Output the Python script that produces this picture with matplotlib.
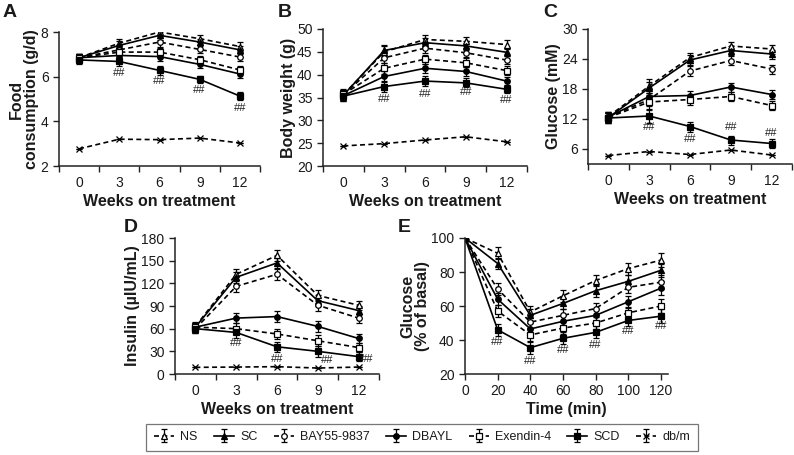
import matplotlib
matplotlib.use("Agg")
import matplotlib.pyplot as plt
import numpy as np

plt.rcParams['font.family'] = ['Liberation Sans', 'DejaVu Sans']

groups = ["NS", "SC", "BAY55-9837", "DBAYL", "Exendin-4", "SCD", "db/m"]
weeks = ["0", "3", "6", "9", "12"]
times = [0, 20, 40, 60, 80, 100, 120]

# Panel A: food consumption (g/d)
A_NS = [6.85, 7.5, 8.0, 7.7, 7.35]
A_SC = [6.85, 7.4, 7.85, 7.55, 7.2]
A_BAY = [6.85, 7.2, 7.55, 7.22, 6.88]
A_DBAYL = [6.85, 6.95, 6.9, 6.55, 6.12]
A_EX = [6.85, 7.1, 7.1, 6.76, 6.3]
A_SCD = [6.75, 6.68, 6.28, 5.88, 5.13]
A_DBM = [2.77, 3.2, 3.18, 3.25, 3.03]
A_err = [0.18, 0.2, 0.2, 0.15, 0.18]
A_sig = [6.16, 5.79, 5.39, 4.6]

# Panel B: body weight (g)
B_NS = [35.6, 45.0, 47.7, 47.3, 46.6]
B_SC = [35.5, 45.3, 47.0, 46.3, 44.9]
B_BAY = [35.6, 43.7, 45.8, 44.8, 43.2]
B_DBAYL = [35.4, 39.6, 41.4, 40.7, 38.6]
B_EX = [35.7, 41.4, 43.4, 42.6, 40.9]
B_SCD = [35.3, 37.4, 38.6, 38.2, 36.8]
B_DBM = [24.4, 24.9, 25.7, 26.4, 25.3]
B_err = [1.1, 1.2, 1.0, 1.0, 0.9]
B_sig = [34.7, 35.8, 36.1, 34.4]

# Panel C: glucose (mM)
C_NS = [12.5, 18.6, 24.3, 26.6, 26.0]
C_SC = [12.3, 18.2, 23.8, 25.7, 25.0]
C_BAY = [12.4, 15.9, 21.6, 23.7, 22.0]
C_DBAYL = [12.4, 16.5, 16.7, 18.4, 16.9]
C_EX = [12.3, 15.4, 15.9, 16.5, 14.7]
C_SCD = [12.2, 12.6, 10.5, 7.8, 7.1]
C_DBM = [4.7, 5.5, 4.9, 5.8, 4.8]
C_err = [1.0, 1.3, 1.0, 0.9, 0.9]
C_sig = [10.4, 8.0, 10.3, 9.3]

# Panel D: insulin (uIU/mL)
D_NS = [63, 132, 157, 104, 91]
D_SC = [62, 128, 147, 97, 84]
D_BAY = [60, 116, 132, 91, 74]
D_DBAYL = [62, 74, 76, 63, 47]
D_EX = [62, 60, 53, 44, 35]
D_SCD = [60, 55, 36, 30, 23]
D_DBM = [8.8, 9.2, 9.7, 7.9, 9.2]
D_err = [6, 7, 7, 7, 6]
D_sig = [40.8, 20, 18, 20]

# Panel E: glucose (% of basal)
E_NS = [100, 91, 56.5, 66, 75, 82, 87]
E_SC = [100, 85, 54.5, 61.5, 69, 74.5, 81]
E_BAY = [100, 70, 50.5, 54.5, 58.5, 71, 74]
E_DBAYL = [100, 64, 46.5, 51, 54.5, 62.5, 70.5]
E_EX = [100, 57, 43, 47, 50, 56, 60]
E_SCD = [100, 46, 35.5, 41, 44.5, 51.5, 54]
E_err = [1.5, 3.5, 3.5, 3.5, 3.5, 3.5, 4]
E_sig = [38.8, 27.8, 34.3, 37.3, 45.0, 48.3]

styles = {
    "NS": dict(ls=(0, (3, 2)), marker='^', mfc='white', ms=4.5),
    "SC": dict(ls='-', marker='^', mfc='black', ms=4.5),
    "BAY55-9837": dict(ls=(0, (3, 2)), marker='o', mfc='white', ms=4),
    "DBAYL": dict(ls='-', marker='o', mfc='black', ms=4),
    "Exendin-4": dict(ls=(0, (3, 2)), marker='s', mfc='white', ms=3.8),
    "SCD": dict(ls='-', marker='s', mfc='black', ms=3.8),
    "db/m": dict(ls=(0, (3, 2)), marker='x', mfc='black', ms=4.5),
}

W, H = 794, 455
fig = plt.figure(figsize=(W / 100, H / 100), dpi=100)

def ax_at(l, r, t, b):
    return fig.add_axes([l / W, 1 - b / H, (r - l) / W, (b - t) / H])

TXT = '#1a1a1a'
LAB = dict(fontsize=11.5, fontweight='bold', color=TXT)

def style_axes(ax):
    for s in ['top', 'right']:
        ax.spines[s].set_visible(False)
    for s in ['left', 'bottom']:
        ax.spines[s].set_linewidth(1.1)
        ax.spines[s].set_color('#222222')
    ax.tick_params(axis='both', labelsize=10, colors='#222222', labelcolor=TXT,
                   direction='out', length=4, width=1.0)

def draw_series(ax, x, series, errs):
    handles = []
    for name, vals in series:
        st = styles[name]
        e = errs if name != "db/m" else [0.0] * len(vals)
        cont = ax.errorbar(x, vals, yerr=e, color='black', lw=1.2, ls=st['ls'],
                           marker=st['marker'], mfc=st['mfc'], mec='black', mew=0.9,
                           ms=st['ms'], capsize=2, elinewidth=0.9, capthick=0.9)
        for b in cont[2]:
            b.set_linestyle('-')
        handles.append(cont)
    return handles

def cat_axis(ax):
    ax.set_xlim(-0.5, 4.5)
    ax.set_xticks(np.arange(len(weeks)))
    ax.set_xticklabels(weeks)
    ax.set_xticks(np.arange(len(weeks) + 1) - 0.5, minor=True)
    ax.tick_params(axis='x', which='major', length=0, pad=7)
    ax.tick_params(axis='x', which='minor', length=4, width=1.0, direction='out', color='#222222')
    ax.set_xlabel("Weeks on treatment", labelpad=3, **LAB)

xw = np.arange(len(weeks))
sig_kw = dict(fontsize=8, color='#222222', ha='center', va='center')

# ---- Panel A
axA = ax_at(59, 260, 32, 166)
style_axes(axA)
hA = draw_series(axA, xw, [("NS", A_NS), ("SC", A_SC), ("BAY55-9837", A_BAY), ("DBAYL", A_DBAYL),
                           ("Exendin-4", A_EX), ("SCD", A_SCD), ("db/m", A_DBM)], A_err)
axA.set_ylim(2, 8)
axA.set_yticks([2, 4, 6, 8])
cat_axis(axA)
axA.set_ylabel("Food\nconsumption (g/d)", labelpad=1, linespacing=1.0, **LAB)
for i, v in enumerate(A_sig):
    axA.text(xw[i + 1], v, "##", **sig_kw)

# ---- Panel B
axB = ax_at(323, 527, 29, 166)
style_axes(axB)
draw_series(axB, xw, [("NS", B_NS), ("SC", B_SC), ("BAY55-9837", B_BAY), ("DBAYL", B_DBAYL),
                      ("Exendin-4", B_EX), ("SCD", B_SCD), ("db/m", B_DBM)], B_err)
axB.set_ylim(20, 50)
axB.set_yticks([20, 25, 30, 35, 40, 45, 50])
cat_axis(axB)
axB.set_ylabel("Body weight (g)", labelpad=1, **LAB)
for i, v in enumerate(B_sig):
    axB.text(xw[i + 1], v, "##", **sig_kw)

# ---- Panel C
axC = ax_at(588, 792, 29, 164)
style_axes(axC)
draw_series(axC, xw, [("NS", C_NS), ("SC", C_SC), ("BAY55-9837", C_BAY), ("DBAYL", C_DBAYL),
                      ("Exendin-4", C_EX), ("SCD", C_SCD), ("db/m", C_DBM)], C_err)
axC.set_ylim(3, 30)
axC.set_yticks([6, 12, 18, 24, 30])
cat_axis(axC)
axC.set_ylabel("Glucose (mM)", labelpad=1, **LAB)
for i, v in enumerate(C_sig):
    axC.text(xw[i + 1], v, "##", **sig_kw)

# ---- Panel D
axD = ax_at(175, 379, 238, 374)
style_axes(axD)
draw_series(axD, xw, [("NS", D_NS), ("SC", D_SC), ("BAY55-9837", D_BAY), ("DBAYL", D_DBAYL),
                      ("Exendin-4", D_EX), ("SCD", D_SCD), ("db/m", D_DBM)], D_err)
axD.set_ylim(0, 180)
axD.set_yticks([0, 30, 60, 90, 120, 150, 180])
cat_axis(axD)
axD.set_ylabel("Insulin (\u00b5IU/mL)", labelpad=1, **LAB)
d_sig_x = [1.0, 2.0, 3.22, 4.22]
for xs, v in zip(d_sig_x, D_sig):
    axD.text(xs, v, "##", **sig_kw)

# ---- Panel E
axE = ax_at(465, 668, 238, 374)
style_axes(axE)
draw_series(axE, times, [("NS", E_NS), ("SC", E_SC), ("BAY55-9837", E_BAY), ("DBAYL", E_DBAYL),
                         ("Exendin-4", E_EX), ("SCD", E_SCD)], E_err)
axE.set_xlim(0, 124.3)
axE.set_ylim(20, 100)
axE.set_xticks(times)
axE.set_yticks([20, 40, 60, 80, 100])
axE.tick_params(axis='x', pad=3)
axE.set_xlabel("Time (min)", labelpad=3, **LAB)
axE.set_ylabel("Glucose\n(% of basal)", labelpad=1, linespacing=1.0, **LAB)
for t, v in zip(times[1:], E_sig):
    axE.text(t, v, "##", **sig_kw)

# panel letters
for lab, px, py in [("A", 3, 4), ("B", 278, 4), ("C", 543, 4), ("D", 124, 219), ("E", 398, 219)]:
    fig.text(px / W, 1 - py / H, lab, fontsize=14, fontweight='bold', color=TXT, ha='left', va='top')

# legend
leg = fig.legend(hA, groups, loc='center', bbox_to_anchor=(422 / W, 1 - 437 / H), ncol=7,
                 frameon=True, fancybox=False, edgecolor='#555555', fontsize=9,
                 handlelength=1.6, columnspacing=1.3, handletextpad=0.5, borderpad=0.6)
leg.get_frame().set_linewidth(0.9)
for t in leg.get_texts():
    t.set_color(TXT)

fig.savefig("out.png", dpi=100)
